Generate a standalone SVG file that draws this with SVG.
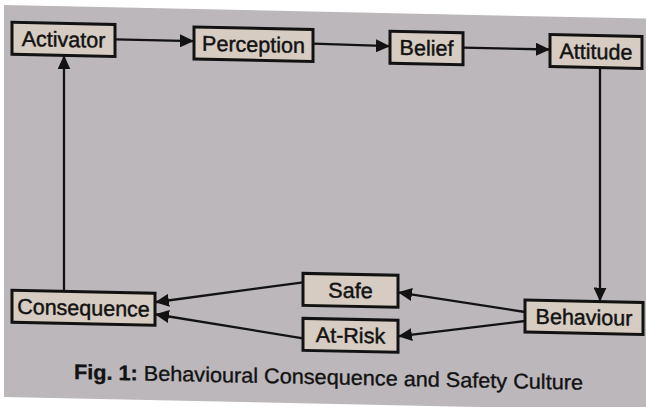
<svg xmlns="http://www.w3.org/2000/svg" width="646" height="407" viewBox="0 0 646 407">
  <style>
    .box { fill: #d6ccc1; stroke: #121212; stroke-width: 3; }
    .lbl { font-family: "Liberation Sans", Arial, sans-serif; font-size: 21.5px; fill: #121212; stroke: #121212; stroke-width: 0.45; text-anchor: middle; }
    .conn { stroke: #121212; stroke-width: 2.3; fill: none; marker-end: url(#arr); }
    .cap { font-family: "Liberation Sans", Arial, sans-serif; font-size: 21px; fill: #121212; stroke: #121212; stroke-width: 0.35; }
  </style>
  <defs>
    <marker id="arr" markerUnits="userSpaceOnUse" markerWidth="15" markerHeight="13" refX="14" refY="6.5" orient="auto">
      <path d="M0,0 L14,6.5 L0,13 Z" fill="#121212"/>
    </marker>
  </defs>
  <rect x="0" y="0" width="646" height="407" fill="#ffffff"/>
  <g transform="skewY(1.2)">
    <rect x="4" y="5" width="642" height="392" fill="#bbb7bb"/>
    <g id="connectors">
      <line class="conn" x1="115" y1="37" x2="194" y2="37"/>
      <line class="conn" x1="313" y1="37" x2="390" y2="38"/>
      <line class="conn" x1="463" y1="38" x2="550" y2="38"/>
      <line class="conn" x1="600" y1="55" x2="600" y2="289"/>
      <line class="conn" x1="64" y1="290" x2="64" y2="54"/>
      <line class="conn" x1="525" y1="301" x2="398" y2="284"/>
      <line class="conn" x1="525" y1="310" x2="398" y2="328"/>
      <line class="conn" x1="303" y1="276" x2="155" y2="299"/>
      <line class="conn" x1="303" y1="332" x2="155" y2="311"/>
    </g>
    <g id="activator">
      <rect class="box" x="12" y="22" width="103" height="32"/>
      <text class="lbl" x="63.5" y="45.5">Activator</text>
    </g>
    <g id="perception">
      <rect class="box" x="194" y="23" width="119" height="32"/>
      <text class="lbl" x="253.5" y="46.5">Perception</text>
    </g>
    <g id="belief">
      <rect class="box" x="390" y="23" width="73" height="32"/>
      <text class="lbl" x="426.5" y="46.5">Belief</text>
    </g>
    <g id="attitude">
      <rect class="box" x="550" y="23" width="92" height="32"/>
      <text class="lbl" x="596" y="46.5">Attitude</text>
    </g>
    <g id="behaviour">
      <rect class="box" x="525" y="289" width="118" height="32"/>
      <text class="lbl" x="584" y="312.5">Behaviour</text>
    </g>
    <g id="safe">
      <rect class="box" x="303" y="267" width="95" height="32"/>
      <text class="lbl" x="350.5" y="290.5">Safe</text>
    </g>
    <g id="at-risk">
      <rect class="box" x="303" y="312" width="95" height="32"/>
      <text class="lbl" x="350.5" y="335.5">At-Risk</text>
    </g>
    <g id="consequence">
      <rect class="box" x="12" y="290" width="143" height="32"/>
      <text class="lbl" x="83.5" y="313.5">Consequence</text>
    </g>
    <text class="cap" x="74" y="377.5" textLength="509" lengthAdjust="spacingAndGlyphs"><tspan font-weight="bold">Fig. 1:</tspan> Behavioural Consequence and Safety Culture</text>
  </g>
</svg>
